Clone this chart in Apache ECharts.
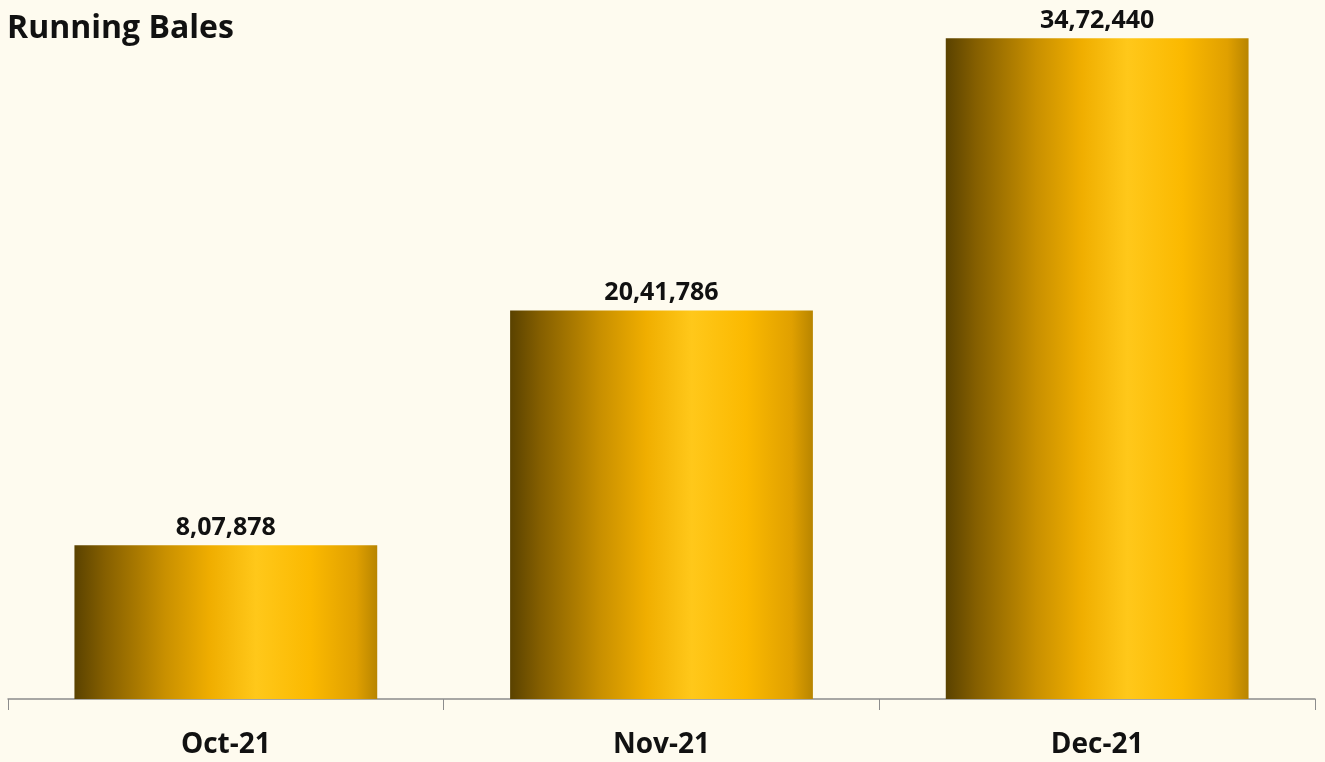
<!DOCTYPE html>
<html><head><meta charset="utf-8">
<script src="https://cdn.jsdelivr.net/npm/echarts@6/dist/echarts.min.js"></script>
<style>html,body{margin:0;padding:0;background:#fefbef;}#c{width:1325px;height:762px;}</style>
</head><body><div id="c"></div>
<script>
const categories = ['Oct-21', 'Nov-21', 'Dec-21'];
const runningBales = [807878, 2041786, 3472440];
const titleText = 'Running Bales';

function indianFormat(n) {
  const s = String(Math.round(n));
  if (s.length <= 3) return s;
  const last3 = s.slice(-3);
  let rest = s.slice(0, -3);
  const parts = [];
  while (rest.length > 2) { parts.unshift(rest.slice(-2)); rest = rest.slice(0, -2); }
  if (rest.length) parts.unshift(rest);
  return parts.join(',') + ',' + last3;
}

const chart = echarts.init(document.getElementById('c'));
chart.setOption({
  backgroundColor: '#fefbef',
  animation: false,
  title: {
    text: titleText, left: 2, top: 8,
    textStyle: { fontFamily: 'Open Sans', fontWeight: 'bold', fontSize: 32, color: '#111' }
  },
  grid: { left: 8, right: 10, top: 14, bottom: 63 },
  xAxis: {
    type: 'category', data: categories,
    axisLine: { lineStyle: { color: '#8c8c8c', width: 1.5 } },
    axisTick: { show: true, length: 11, lineStyle: { color: '#8c8c8c' } },
    axisLabel: { fontFamily: 'Open Sans', fontWeight: 'bold', fontSize: 28, color: '#111', margin: 32 }
  },
  yAxis: { type: 'value', min: 0, max: 3600000, show: false, splitLine: { show: false } },
  series: [{
    type: 'bar', data: runningBales, barWidth: '69.5%',
    itemStyle: {
      color: new echarts.graphic.LinearGradient(0, 0, 1, 0, [
        { offset: 0, color: '#5a4200' },
        { offset: 0.1, color: '#855f00' },
        { offset: 0.3, color: '#c99000' },
        { offset: 0.45, color: '#f0ae00' },
        { offset: 0.6, color: '#ffc81a' },
        { offset: 0.78, color: '#fbb900' },
        { offset: 0.93, color: '#e0a000' },
        { offset: 1, color: '#b88500' }
      ])
    },
    label: {
      show: true, position: 'top', distance: 5,
      fontFamily: 'Open Sans', fontWeight: 'bold', fontSize: 25, color: '#111',
      formatter: p => indianFormat(p.value)
    }
  }]
});
</script></body></html>
